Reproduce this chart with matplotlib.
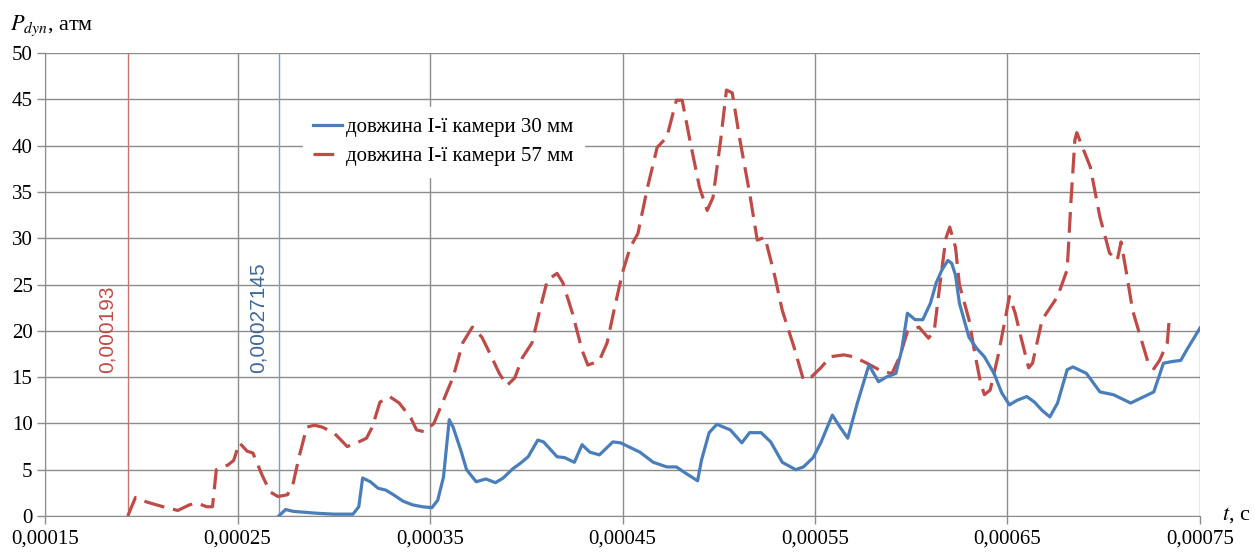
import numpy as np
import matplotlib
matplotlib.use("Agg")
import matplotlib.pyplot as plt
from matplotlib.ticker import FuncFormatter, MultipleLocator
from matplotlib.transforms import offset_copy

plt.rcParams["font.family"] = ["Liberation Serif", "DejaVu Serif"]
plt.rcParams["mathtext.fontset"] = "stix"

# times in microseconds, pressure in atm
t57_us = [193, 197, 203, 213, 219, 225, 229, 234, 237, 239, 242, 245, 248, 251, 255, 258,
          263, 267, 271, 276, 279, 282, 286, 290, 294, 300, 307, 312, 317, 320, 324, 329,
          334, 340, 343, 347, 352, 357, 362, 367, 372, 377, 381, 386, 390, 394, 398, 403,
          407, 411, 416, 419, 424, 429, 432, 436, 438, 442, 446, 450, 454, 458, 463, 468,
          473, 478, 481, 485, 490, 494, 497, 501, 504, 507, 511, 516, 520, 524, 529, 533,
          539, 544, 548, 553, 558, 565, 570, 577, 585, 590, 594, 598, 604, 609, 612, 615,
          618, 620, 623, 625, 630, 633, 636, 638, 641, 645, 648, 651, 654, 657, 661, 663,
          668, 676, 681, 683, 685, 686, 689, 693, 698, 703, 707, 709, 712, 715, 720, 723,
          726, 729, 733, 734]
p57 = [0, 2.0, 1.5, 0.9, 0.6, 1.2, 1.4, 1.0, 1.0, 5.0, 5.3, 5.5, 6.0, 7.9, 7.0, 6.8,
       4.3, 2.6, 2.1, 2.3, 3.6, 6.4, 9.6, 9.8, 9.6, 9.0, 7.5, 7.9, 8.4, 9.6, 12.3, 12.9,
       12.2, 10.6, 9.3, 9.1, 10.0, 12.5, 15.0, 18.7, 20.4, 19.3, 17.6, 15.4, 14.1, 14.9, 17.1, 18.7,
       22.2, 25.5, 26.2, 25.2, 21.9, 17.9, 16.3, 16.6, 16.8, 18.7, 22.6, 26.3, 29.0, 30.5, 35.5, 39.8,
       40.9, 44.9, 44.9, 40.6, 35.5, 33.0, 34.4, 40.6, 46.0, 45.7, 40.6, 34.9, 29.8, 30.1, 26.0, 22.2,
       18.3, 14.7, 15.0, 16.0, 17.2, 17.4, 17.2, 16.5, 15.6, 15.4, 17.2, 19.9, 20.4, 19.2, 20.1, 25.2,
       30.0, 31.2, 29.0, 25.0, 21.2, 17.6, 14.4, 13.1, 13.6, 17.2, 20.4, 23.7, 21.9, 19.3, 16.0, 16.5,
       21.2, 23.7, 26.6, 34.1, 40.6, 41.4, 39.8, 37.7, 32.3, 28.4, 27.6, 29.6, 26.0, 22.2, 18.7, 16.6,
       15.9, 16.8, 18.7, 21.2]

t30_us = [271.45, 275, 279, 291, 300, 310, 313, 315, 319, 323, 327, 331, 336, 341, 346, 351,
          354, 357, 360, 362, 366, 369, 374, 379, 384, 388, 393, 397, 401, 406, 409, 416,
          420, 425, 429, 433, 438, 445, 449, 455, 459, 466, 473, 478, 483, 489, 491, 495,
          499, 506, 512, 516, 522, 527, 533, 540, 544, 549, 553, 559, 563, 567, 572, 578,
          583, 587, 592, 595, 598, 602, 606, 610, 613, 616, 619, 621, 623, 625, 630, 634,
          638, 643, 647, 651, 655, 660, 664, 668, 672, 676, 681, 684, 691, 698, 705, 714,
          719, 726, 731, 736, 740, 743, 750]
p30 = [0, 0.7, 0.5, 0.3, 0.2, 0.2, 1.0, 4.1, 3.7, 3.0, 2.8, 2.3, 1.6, 1.2, 1.0, 0.9,
       1.7, 4.2, 10.4, 9.6, 7.1, 5.0, 3.7, 4.0, 3.6, 4.1, 5.1, 5.7, 6.4, 8.2, 8.0, 6.4,
       6.3, 5.8, 7.7, 6.9, 6.6, 8.0, 7.9, 7.3, 6.9, 5.8, 5.3, 5.3, 4.6, 3.8, 6.0, 9.0,
       9.9, 9.3, 7.9, 9.0, 9.0, 8.0, 5.8, 5.0, 5.3, 6.3, 7.9, 10.9, 9.6, 8.4, 12.2, 16.3,
       14.5, 15.0, 15.4, 17.9, 21.9, 21.2, 21.2, 23.0, 25.2, 26.6, 27.6, 27.3, 26.0, 23.0, 19.3, 18.1,
       17.2, 15.4, 13.3, 12.0, 12.5, 12.9, 12.3, 11.4, 10.7, 12.2, 15.8, 16.1, 15.4, 13.4, 13.1, 12.2,
       12.7, 13.4, 16.5, 16.7, 16.8, 17.9, 20.3]

t_start57 = 0.000193
t_start30 = 0.00027145
xticks = [0.00015, 0.00025, 0.00035, 0.00045, 0.00055, 0.00065, 0.00075]
labels = ["довжина І-ї камери 30 мм", "довжина І-ї камери 57 мм"]

blue = "#4a7ebb"
red = "#be4b48"

fig = plt.figure(figsize=(12.55, 5.53), dpi=100)
ax = fig.add_axes([45 / 1255, 1 - 516 / 553, 1155 / 1255, 463 / 553])

t30 = np.array(t30_us) * 1e-6
t57 = np.array(t57_us) * 1e-6

ax.axvline(t_start57, color="#c87370", lw=1.0, zorder=2)
ax.axvline(t_start30, color="#7a9cc8", lw=1.0, zorder=2)

ax.plot(t30, p30, color=blue, lw=2.3, solid_joinstyle="round", label=labels[0], zorder=4)
ax.plot(t57, p57, color=red, lw=2.3, dashes=(6.5, 2.8), label=labels[1], zorder=3)

ax.text(t_start57, 15.4, "0,000193", rotation=90, ha="right", va="bottom",
        color=red, fontsize=15, family="Liberation Sans",
        transform=offset_copy(ax.transData, fig=fig, x=-8, y=0, units="points"))
ax.text(t_start30, 15.4, "0,00027145", rotation=90, ha="right", va="bottom",
        color="#3f6898", fontsize=15, family="Liberation Sans",
        transform=offset_copy(ax.transData, fig=fig, x=-8, y=0, units="points"))

ax.set_xlim(0.00015, 0.00075)
ax.set_ylim(0, 50)
ax.set_xticks(xticks)
ax.yaxis.set_major_locator(MultipleLocator(5))
ax.xaxis.set_major_formatter(FuncFormatter(lambda v, p: ("%.5f" % v).replace(".", ",")))
ax.grid(True, color="#8c8c8c", lw=1.0)
ax.set_axisbelow(True)
for s in ["top", "right"]:
    ax.spines[s].set_visible(False)
for s in ["left", "bottom"]:
    ax.spines[s].set_color("#8c8c8c")
ax.tick_params(colors="#8c8c8c", labelcolor="black", labelsize=15, length=6, width=1.0)
ax.tick_params(axis="x", pad=4)
ax.tick_params(axis="y", pad=3)

leg = ax.legend(loc="upper left", bbox_to_anchor=(0.214, 0.905), frameon=True, fontsize=15,
                handlelength=1.4, handletextpad=0.2, borderpad=0.5, labelspacing=0.45,
                fancybox=False)
leg.get_frame().set_edgecolor("white")
leg.get_frame().set_facecolor("white")
leg.get_frame().set_alpha(1)

fig.text(10 / 1255, 1 - 30 / 553, "$P_{dyn}$, атм", fontsize=16, va="baseline")
fig.text(1222 / 1255, 1 - 520 / 553, "$t$, с", fontsize=16, va="baseline")

fig.savefig("out.png", dpi=100)
